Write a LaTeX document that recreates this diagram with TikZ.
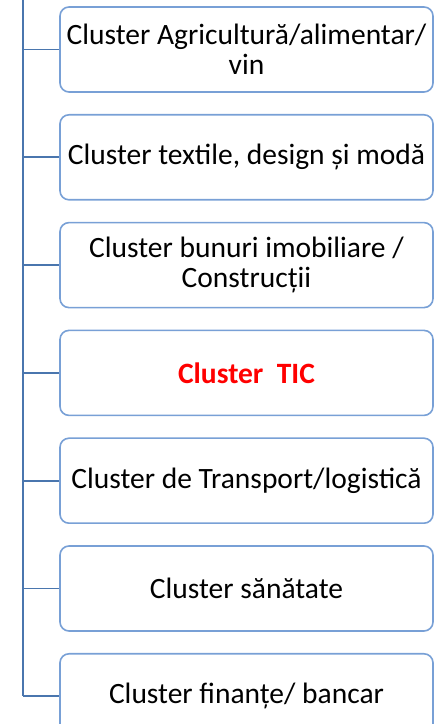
\documentclass[tikz,border=0pt]{standalone}
\usepackage{fontspec}
\setmainfont{Carlito}
\usetikzlibrary{positioning}
\definecolor{trunkblue}{RGB}{74,118,174}
\definecolor{boxblue}{RGB}{120,160,214}
\definecolor{ticred}{RGB}{255,0,0}
\tikzset{
  cluster/.style={draw=boxblue,line width=1.6pt,rounded corners=9pt,fill=white,
    minimum width=373pt,minimum height=85pt,inner sep=2pt,align=center,
    font=\fontsize{29.5}{30}\selectfont},
  trunk/.style={draw=trunkblue,line width=2.4pt},
  branch/.style={draw=trunkblue,line width=1.8pt}
}
\begin{document}
\begin{tikzpicture}[x=1pt,y=1pt,node distance=21.2pt]
\useasboundingbox (0,0) rectangle (434,724);
\node[cluster] (agri) at (246.5,674.5) {Cluster Agricultură/alimentar/\\vin};
\node[cluster,below=of agri] (textile) {Cluster textile, design și modă};
\node[cluster,below=of textile] (imob) {Cluster bunuri imobiliare /\\Construcții};
\node[cluster,below=of imob] (tic) {\textcolor{ticred}{\bfseries Cluster\ \ TIC}};
\node[cluster,below=of tic] (transport) {Cluster de Transport/logistică};
\node[cluster,below=of transport] (sanatate) {Cluster sănătate};
\node[cluster,below=of sanatate] (finante) {Cluster finanțe/ bancar};
% trunk on the left
\coordinate (trunktop) at (23,724);
\draw[trunk] (trunktop) -- (trunktop |- finante.west);
\foreach \n in {agri,textile,imob,tic,transport,sanatate,finante}
  \draw[branch] (trunktop |- \n.west) -- (\n.west);
\end{tikzpicture}
\end{document}
